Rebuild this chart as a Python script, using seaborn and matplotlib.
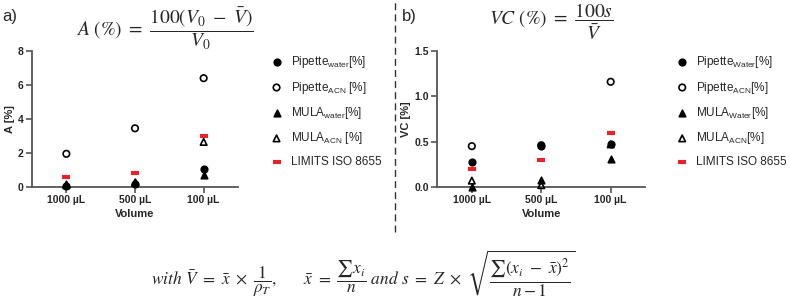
import pandas as pd
import seaborn as sns
import matplotlib.pyplot as plt
from matplotlib.lines import Line2D

# Data
volumes = ['1000 µL', '500 µL', '100 µL']

acc_pipette_water = [0.05, 0.2, 1.05]
acc_pipette_acn = [1.95, 3.45, 6.4]
acc_mula_water = [0.15, 0.3, 0.7]
acc_mula_acn = [0.1, 0.25, 2.65]
acc_limits = [0.6, 0.8, 3.0]

vc_pipette_water = [0.28, 0.45, 0.47]
vc_pipette_acn = [0.45, 0.46, 1.16]
vc_mula_water = [0.0, 0.08, 0.31]
vc_mula_acn = [0.07, 0.02, 0.47]
vc_limits = [0.2, 0.3, 0.6]

labels_a = [r'Pipette$_{\mathrm{water}}$[%]', r'Pipette$_{\mathrm{ACN}}$ [%]',
            r'MULA$_{\mathrm{water}}$[%]', r'MULA$_{\mathrm{ACN}}$ [%]', 'LIMITS ISO 8655']
labels_b = [r'Pipette$_{\mathrm{Water}}$[%]', r'Pipette$_{\mathrm{ACN}}$[%]',
            r'MULA$_{\mathrm{Water}}$[%]', r'MULA$_{\mathrm{ACN}}$[%]', 'LIMITS ISO 8655']

sns.set_style('ticks')
plt.rcParams['font.family'] = ['Liberation Sans', 'DejaVu Sans']
plt.rcParams['mathtext.fontset'] = 'custom'
plt.rcParams['mathtext.rm'] = 'Liberation Sans'
plt.rcParams['mathtext.it'] = 'Liberation Sans:italic'

# marker, face colour, edge colour, size
styles = [
    ('o', 'black', 'black', 22),
    ('o', 'none', 'black', 22),
    ('^', 'black', 'black', 22),
    ('^', 'none', 'black', 22),
    ('_', '#e8212a', '#e8212a', 26),
]


def draw_panel(ax, series, labels, ylim, yticks, ylabel, leg_x):
    for vals, lab, (m, fc, ec, s) in zip(series, labels, styles):
        df = pd.DataFrame({'Volume': volumes, 'value': vals})
        if m == '_':
            sns.scatterplot(data=df, x='Volume', y='value', ax=ax, marker=m, s=s,
                            color=ec, linewidth=3, label=lab, zorder=3, clip_on=False)
        else:
            sns.scatterplot(data=df, x='Volume', y='value', ax=ax, marker=m, s=s,
                            facecolor=fc, edgecolor=ec, linewidth=1.2, label=lab,
                            zorder=3, clip_on=False)
    ax.set_xlim(-0.5, 2.5)
    ax.set_ylim(*ylim)
    ax.set_yticks(yticks)
    ax.set_xlabel('Volume', fontsize=8, fontweight='bold', labelpad=3)
    ax.set_ylabel(ylabel, fontsize=8, fontweight='bold', labelpad=2)
    for t in ax.get_xticklabels() + ax.get_yticklabels():
        t.set_fontweight('bold')
        t.set_fontsize(7.5)
    ax.tick_params(length=4, width=1.2, color='#555555', pad=2)
    for side in ['left', 'bottom']:
        ax.spines[side].set_linewidth(1.3)
        ax.spines[side].set_color('#555555')
    sns.despine(ax=ax)
    ax.legend(loc='upper left', bbox_to_anchor=(leg_x, 1.02), frameon=False,
              fontsize=8.5, handletextpad=0.7, labelspacing=0.8, handlelength=1.0,
              borderpad=0)


fig = plt.figure(figsize=(7.89, 3.07), dpi=100)
ax1 = fig.add_axes([0.0406, 0.391, 0.261, 0.443])
ax2 = fig.add_axes([0.554, 0.391, 0.264, 0.443])

draw_panel(ax1, [acc_pipette_water, acc_pipette_acn, acc_mula_water, acc_mula_acn, acc_limits],
           labels_a, (0, 8), [0, 2, 4, 6, 8], 'A [%]', 1.13)
draw_panel(ax2, [vc_pipette_water, vc_pipette_acn, vc_mula_water, vc_mula_acn, vc_limits],
           labels_b, (0, 1.5), [0, 0.5, 1.0, 1.5], 'VC [%]', 1.12)
ax2.set_yticklabels(['0.0', '0.5', '1.0', '1.5'], fontweight='bold', fontsize=7.5)

fig.text(0.003, 0.945, 'a)', fontsize=12, va='center')
fig.text(0.51, 0.945, 'b)', fontsize=12, va='center')

fig.text(0.209, 0.905, r'$A\ \mathrm{(\%)}\ =\ \dfrac{100(V_0\ -\ \bar{V})}{V_0}$',
         fontsize=14, ha='center', va='center', math_fontfamily='stix')
fig.text(0.698, 0.93, r'$VC\ \mathrm{(\%)}\ =\ \dfrac{100s}{\bar{V}}$',
         fontsize=14, ha='center', va='center', math_fontfamily='stix')
fig.text(0.46, 0.11,
         r'$with\ \bar{V}\ =\ \bar{x}\ \times\ \dfrac{1}{\rho_T},\qquad \bar{x}\ =\ '
         r'\dfrac{\sum x_i}{n}\ and\ s\ =\ Z\ \times\ \sqrt{\dfrac{\sum(x_i\ -\ \bar{x})^2}{n-1}}$',
         fontsize=12.5, ha='center', va='center', math_fontfamily='stix')

fig.add_artist(Line2D([0.5006, 0.5006], [0.245, 1.0], transform=fig.transFigure,
                      color='#333333', linestyle=(0, (5, 3)), linewidth=1.0))

fig.savefig('out.png', dpi=100)
